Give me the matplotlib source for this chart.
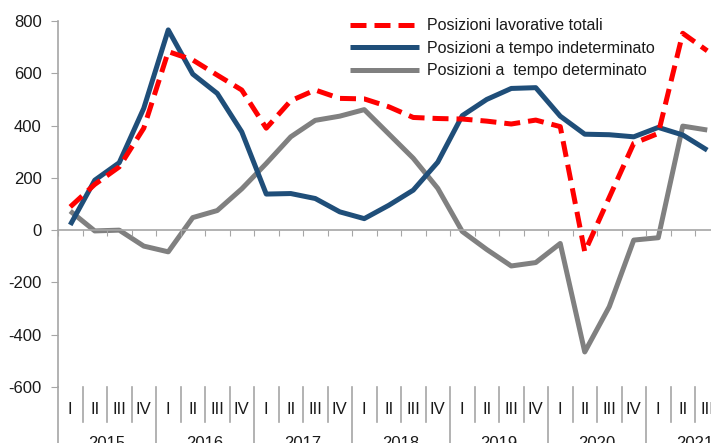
import matplotlib
matplotlib.use("Agg")
import matplotlib.pyplot as plt
from matplotlib.transforms import blended_transform_factory
import numpy as np

plt.rcParams['font.family'] = ['Liberation Sans', 'DejaVu Sans']
plt.rcParams['axes.unicode_minus'] = False

quarters = ['I', 'II', 'III', 'IV'] * 6 + ['I', 'II', 'III']
years = ['2015', '2016', '2017', '2018', '2019', '2020', '2021']

totali = [89, 175, 242, 390, 683, 651, 593, 536, 390, 495, 536, 504, 502,
          472, 431, 427, 425, 417, 406, 421, 396, -83, 125, 332, 370, 753, 686]
indeterminato = [20, 191, 258, 466, 766, 597, 523, 376, 138, 140, 121, 70, 44,
                 95, 153, 260, 438, 500, 542, 545, 436, 367, 365, 357, 393, 364, 306]
determinato = [73, -3, 0, -61, -83, 48, 75, 158, 255, 357, 420, 436, 461,
               368, 275, 160, -5, -74, -137, -124, -51, -466, -293, -38, -29, 398, 383]

labels = ['Posizioni lavorative totali', 'Posizioni a tempo indeterminato',
          'Posizioni a  tempo determinato']

W, H = 711, 443
fig = plt.figure(figsize=(W / 100, H / 100), dpi=100)
ax = fig.add_axes([58 / W, 1 - 387 / H, (719.5 - 58) / W, 366 / H])

n = len(quarters)
x = np.arange(n) + 0.5
ax.plot(x, totali, color='#ff0000', lw=3.6, dashes=(3.2, 1.6), label=labels[0], zorder=3)
ax.plot(x, indeterminato, color='#1f4e79', lw=3.6, label=labels[1], solid_capstyle='butt', zorder=2)
ax.plot(x, determinato, color='#808080', lw=3.6, label=labels[2], solid_capstyle='butt', zorder=1)

ax.set_xlim(0, n)
ax.set_ylim(-600, 800)
ax.set_yticks(np.arange(-600, 801, 200))
gray = '#a6a6a6'
for s in ['top', 'right']:
    ax.spines[s].set_visible(False)
ax.spines['bottom'].set_position(('data', 0))
ax.spines['bottom'].set_color(gray)
ax.spines['left'].set_color(gray)
ax.spines['bottom'].set_linewidth(1.2)
ax.spines['left'].set_linewidth(1.2)
ax.set_xticks(np.arange(0, n + 1))
ax.tick_params(axis='x', direction='out', length=4.5, color=gray, labelbottom=False)
ax.tick_params(axis='y', direction='out', length=4.8, color=gray, pad=7,
               labelsize=12, labelcolor='#1a1a1a')

# category labels
tr = blended_transform_factory(ax.transData, fig.transFigure)
def fy(py):
    return 1 - py / H

for i, q in enumerate(quarters):
    ax.text(i + 0.5, fy(409), q, transform=tr, ha='center', va='center',
            fontsize=12, color='#1a1a1a', clip_on=False)
for b in range(0, n + 1):
    if b % 4 == 0:
        ax.plot([b, b], [fy(387), fy(445)], transform=tr, color=gray, lw=1.2, clip_on=False)
    else:
        ax.plot([b, b], [fy(387), fy(422)], transform=tr, color=gray, lw=1.2, clip_on=False)
for k, yv in enumerate(years):
    ax.text(4 * k + 2, fy(436), yv, transform=tr, ha='center', va='top',
            fontsize=12, color='#1a1a1a', clip_on=False)

leg = fig.legend(loc='upper left', bbox_to_anchor=(350 / W, 1 - 18.5 / H), frameon=False,
                 fontsize=11.5, handlelength=4.3, handletextpad=0.55, labelspacing=0.46,
                 borderpad=0, borderaxespad=0)
for t in leg.get_texts():
    t.set_color('#1a1a1a')

fig.savefig('out.png', dpi=100)
